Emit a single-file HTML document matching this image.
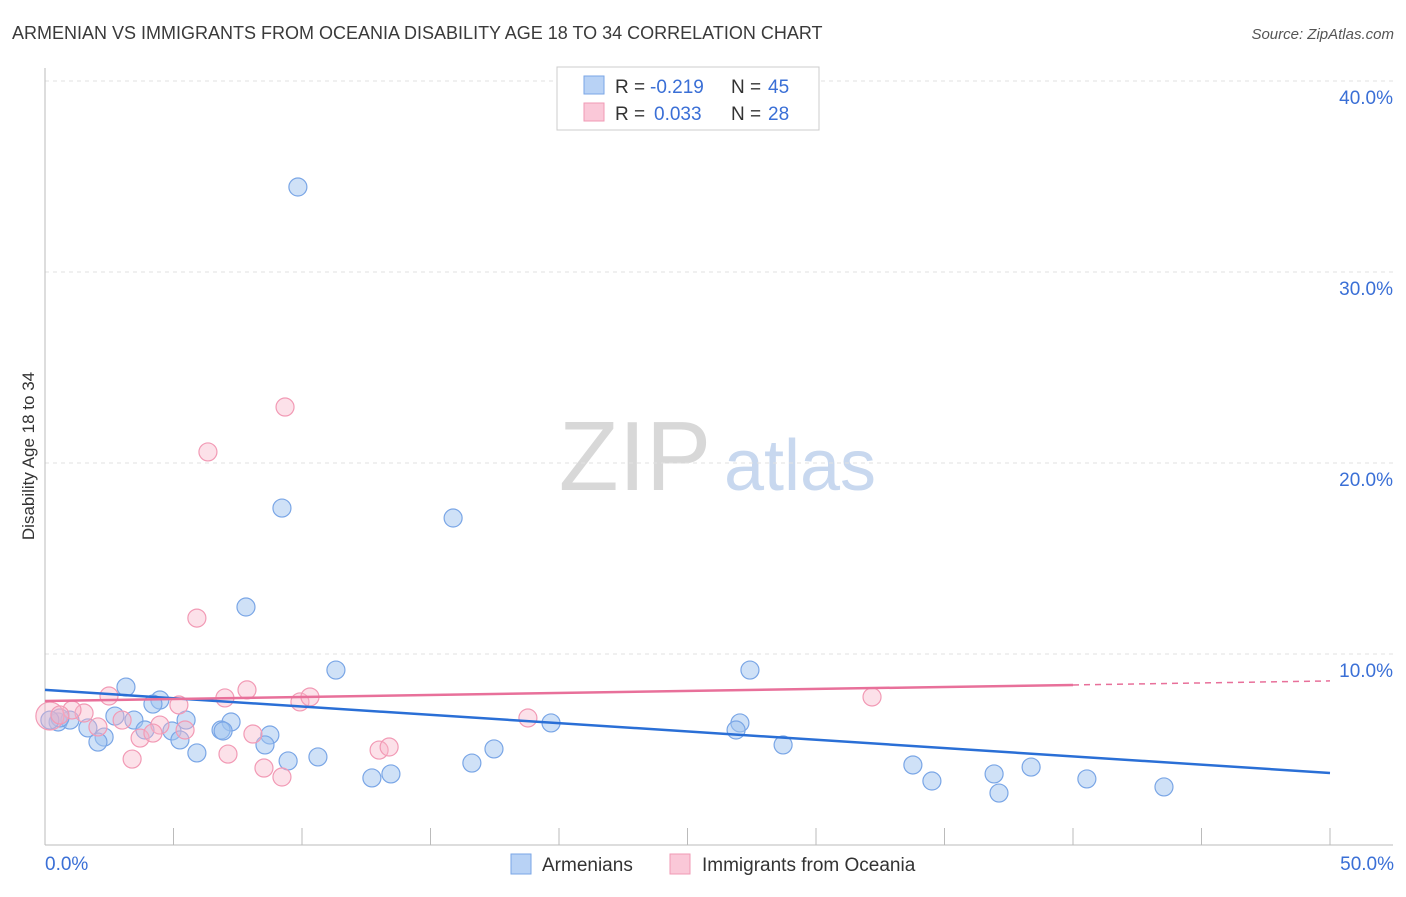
<!DOCTYPE html>
<html><head><meta charset="utf-8"><style>
body{margin:0;background:#fff;font-family:"Liberation Sans",sans-serif;}
svg text{font-family:"Liberation Sans",sans-serif;}
</style></head><body>
<svg id="c" width="1406" height="892">
<text x="12" y="39" font-size="18" fill="#3a3a3a">ARMENIAN VS IMMIGRANTS FROM OCEANIA DISABILITY AGE 18 TO 34 CORRELATION CHART</text>
<text x="1394" y="39" font-size="15" fill="#555" font-style="italic" text-anchor="end">Source: ZipAtlas.com</text>
<text x="635" y="490" font-size="98" fill="#d8d8d8" font-family="Liberation Serif" text-anchor="middle">ZIP</text>
<text x="800" y="490" font-size="72" fill="#c8d8ef" text-anchor="middle">atlas</text>
<text transform="translate(34,456) rotate(-90)" font-size="17" fill="#333" text-anchor="middle">Disability Age 18 to 34</text>
<g id="grid"></g><g id="axes"></g><g id="pts"></g><g id="lines"></g>
<g>
<rect x="557" y="67" width="262" height="63" fill="#fff" stroke="#ccc"/>
<rect x="584" y="76" width="20" height="18" fill="#b8d2f5" stroke="#7aa6e6"/>
<text x="615" y="93" font-size="19" fill="#333">R =</text>
<text x="650" y="93" font-size="19" fill="#3a6fd6">-0.219</text>
<text x="731" y="93" font-size="19" fill="#333">N =</text>
<text x="768" y="93" font-size="19" fill="#3a6fd6">45</text>
<rect x="584" y="103" width="20" height="18" fill="#fac8d8" stroke="#f09ab5"/>
<text x="615" y="120" font-size="19" fill="#333">R =</text>
<text x="654" y="120" font-size="19" fill="#3a6fd6">0.033</text>
<text x="731" y="120" font-size="19" fill="#333">N =</text>
<text x="768" y="120" font-size="19" fill="#3a6fd6">28</text>
</g>
<g>
<rect x="511" y="854" width="20" height="20" fill="#b8d2f5" stroke="#7aa6e6"/>
<text x="542" y="871" font-size="19" fill="#333">Armenians</text>
<rect x="670" y="854" width="20" height="20" fill="#fac8d8" stroke="#f09ab5"/>
<text x="702" y="871" font-size="19" fill="#333">Immigrants from Oceania</text>
</g>
</svg>
<script>
const yTicks=[10,20,30,40];
const xTickLabels=["0.0%","50.0%"];
const blueX=[9.84,9.22,15.88,7.82,11.32,27.43,3.15,4.47,4.20,2.72,3.46,5.49,7.24,6.85,6.93,8.75,0.51,0.97,0.58,1.67,2.30,2.06,3.89,4.94,5.25,5.91,8.56,9.46,10.62,12.72,13.46,16.61,17.47,19.69,27.04,26.89,28.72,33.77,34.51,36.93,37.12,38.37,40.54,43.54,0.19];
const blueY=[34.45,17.64,17.12,12.46,9.16,9.16,8.27,7.59,7.38,6.75,6.54,6.54,6.44,6.02,5.97,5.76,6.44,6.54,6.65,6.13,5.65,5.39,6.02,5.97,5.50,4.82,5.24,4.40,4.61,3.51,3.72,4.29,5.03,6.39,6.39,6.02,5.24,4.19,3.35,3.72,2.72,4.08,3.46,3.04,6.54];
const pinkX=[0.19,9.34,6.34,5.91,7.86,7.00,5.21,9.92,10.31,18.79,32.18,2.49,1.52,1.05,0.58,3.00,2.06,4.47,5.45,3.70,4.20,8.09,7.12,3.39,8.52,9.22,13.00,13.39];
const pinkY=[6.75,22.93,20.58,11.88,8.12,7.70,7.33,7.49,7.75,6.65,7.75,7.80,6.91,7.07,6.81,6.54,6.18,6.28,6.02,5.60,5.86,5.81,4.76,4.50,4.03,3.56,4.97,5.13];
const blueTrend=[8.12,3.77];
const pinkTrend=[7.54,8.59];
const NS="http://www.w3.org/2000/svg";
const X=v=>45+v*25.7, Y=v=>845-v*19.1;
function mk(t,a,p){const e=document.createElementNS(NS,t);for(const k in a)e.setAttribute(k,a[k]);document.getElementById(p).appendChild(e);return e;}
yTicks.forEach(t=>{
 const g=mk('line',{x1:45,x2:1393,y1:Y(t),y2:Y(t),stroke:'#e2e2e2','stroke-dasharray':'4,4'},'grid');
 
 
 const l=mk('text',{x:1393,y:Y(t)+23,'font-size':19,fill:'#3a6fd6','text-anchor':'end'},'grid');
 l.textContent=t.toFixed(1)+'%';
 
 
});
const ax=mk('line',{x1:45,x2:1393,y1:845,y2:845,stroke:'#bbb'},'axes');


const ay=mk('line',{x1:45,x2:45,y1:68,y2:845,stroke:'#bbb'},'axes');


for(let i=0;i<=10;i++){
 const t=mk('line',{x1:X(i*5),x2:X(i*5),y1:828,y2:845,stroke:'#bbb'},'axes');
 
 
}
[[0,'start',45],[50,'end',1394]].forEach((d,i)=>{
 const l=mk('text',{x:d[2],y:870,'font-size':19,fill:'#3a6fd6','text-anchor':d[1]},'axes');
 l.textContent=xTickLabels[i];
 
 
});
blueX.forEach((v,i)=>{
 const c=mk('circle',{cx:X(v),cy:Y(blueY[i]),r:9,fill:'rgba(160,196,240,0.5)',stroke:'#7aa6e6','stroke-width':1.2},'pts');
 
 
});
pinkX.forEach((v,i)=>{
 const c=mk('circle',{cx:X(v),cy:Y(pinkY[i]),r:i==0?14:9,fill:'rgba(248,180,200,0.4)',stroke:'#f29ab5','stroke-width':1.2},'pts');
 
 
});
const bl=mk('line',{x1:X(0),y1:Y(blueTrend[0]),x2:X(50),y2:Y(blueTrend[1]),stroke:'#2a6fd6','stroke-width':2.5},'lines');


const pAt=x=>pinkTrend[0]+(pinkTrend[1]-pinkTrend[0])*x/50;
const pl=mk('line',{x1:X(0),y1:Y(pAt(0)),x2:X(40),y2:Y(pAt(40)),stroke:'#e8709a','stroke-width':2.5},'lines');


const pd=mk('line',{x1:X(40),y1:Y(pAt(40)),x2:X(50),y2:Y(pAt(50)),stroke:'#e8709a','stroke-width':1.5,'stroke-dasharray':'6,5'},'lines');


</script>
</body></html>
